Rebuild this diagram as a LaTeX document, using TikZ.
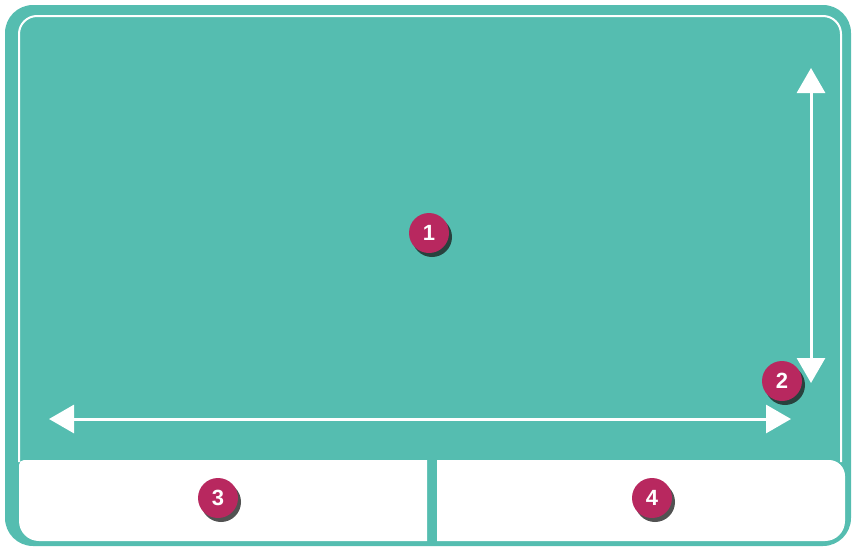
\documentclass[tikz,border=0pt]{standalone}
\usepackage{fontspec}
\setsansfont{Liberation Sans}
\usetikzlibrary{arrows.meta, shadows}

\definecolor{padteal}{HTML}{55BDB0}
\definecolor{badgered}{HTML}{B8285F}

\begin{document}
\begin{tikzpicture}[x=1pt, y=-1pt,
  badge/.style={circle, fill=badgered, minimum size=40pt, inner sep=0pt,
    text=white, font=\sffamily\bfseries\fontsize{22}{22}\selectfont,
    drop shadow={shadow xshift=3pt, shadow yshift=-4pt, opacity=0.75, fill=black!90}},
  swipe/.style={white, line width=3pt, {Triangle[width=28pt, length=25pt]}-{Triangle[width=28pt, length=25pt]}}
]

% Rahmen
\useasboundingbox (0,0) rectangle (854,549);
\fill[padteal, rounded corners=28pt] (5,5) rectangle (851,546);

% Innere Kontur
\draw[white, line width=2pt, rounded corners=18pt]
(19,462) -- (19,16) -- (841,16) -- (841,462);

% Tasten
\fill[white] (19,500) [rounded corners=5pt] -- (19,460) -- (200,460)
  [sharp corners] -- (427,460) -- (427,541) [rounded corners=20pt] -- (19,541) -- cycle;
\fill[white] (437,500) -- (437,460) [rounded corners=16pt] -- (845,460)
  [rounded corners=20pt] -- (845,541) [sharp corners] -- (437,541) -- cycle;

% Wischrichtungen
\coordinate (vtop) at (811,68);
\coordinate (vbot) at (811,383);
\coordinate (hleft) at (49,419);
\coordinate (hright) at (791,419);
\draw[swipe] (vbot) -- (vtop);
\draw[swipe] (hleft) -- (hright);

% Markierungen
\node[badge] (n1) at (429,233) {1};
\node[badge] (n2) at (782,381) {2};
\node[badge] (n3) at (218,498) {3};
\node[badge] (n4) at (652,498) {4};

\end{tikzpicture}
\end{document}
